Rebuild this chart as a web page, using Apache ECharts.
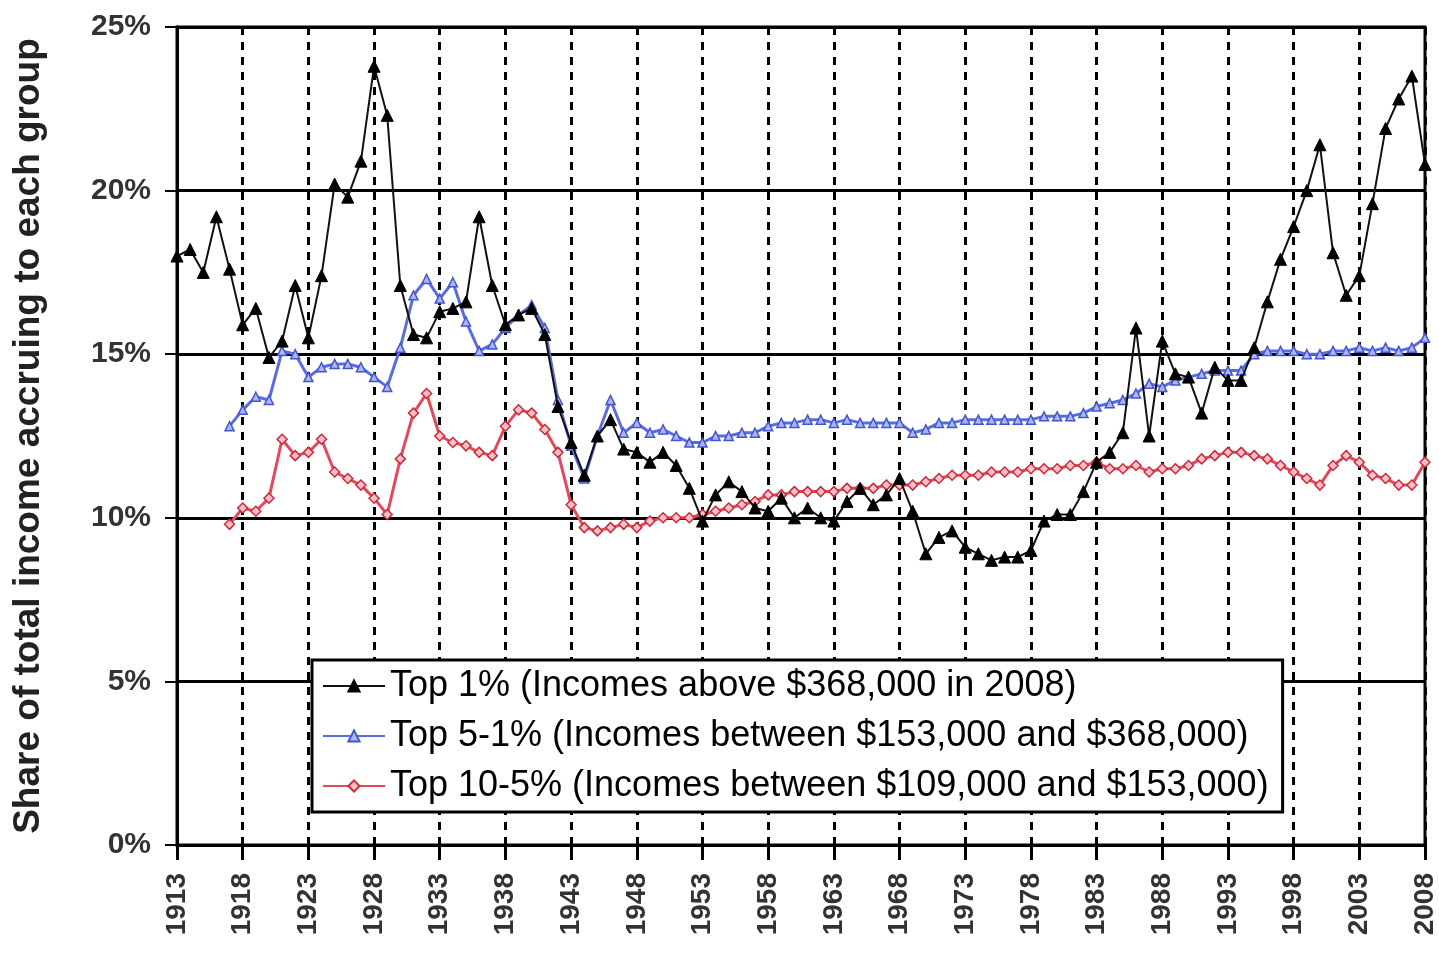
<!DOCTYPE html>
<html>
<head>
<meta charset="utf-8">
<script src="https://cdn.jsdelivr.net/npm/echarts@6/dist/echarts.min.js"></script>
<style>
html,body{margin:0;padding:0;background:#fff;}
#chart{width:1439px;height:959px;}
</style>
</head>
<body>
<div id="chart"></div>
<script>
// Years 1913..2008
var years = [];
for (var y = 1913; y <= 2008; y++) years.push(String(y));

var seriesNames = [
  'Top 1% (Incomes above $368,000 in 2008)',
  'Top 5-1% (Incomes between $153,000 and $368,000)',
  'Top 10-5% (Incomes between $109,000 and $153,000)'
];

var top1 = [
  18.0,18.2,17.5,19.2,17.6,15.9,16.4,
  14.9,15.4,17.1,15.5,17.4,20.2,19.8,20.9,23.8,22.3,
  17.1,15.6,15.5,16.3,16.4,16.6,19.2,17.1,15.9,16.2,
  16.4,15.6,13.4,12.3,11.3,12.5,13.0,12.1,12.0,11.7,
  12.0,11.6,10.9,9.9,10.7,11.1,10.8,10.3,10.2,10.6,
  10.0,10.3,10.0,9.9,10.5,10.9,10.4,10.7,11.2,10.2,
  8.9,9.4,9.6,9.1,8.9,8.7,8.8,8.8,9.0,9.9,
  10.1,10.1,10.8,11.7,12.0,12.6,15.8,12.5,15.4,14.4,
  14.3,13.2,14.6,14.2,14.2,15.2,16.6,17.9,18.9,20.0,
  21.4,18.1,16.8,17.4,19.6,21.9,22.8,23.5,20.8
];

var top5to1 = [
  null,null,null,null,12.8,13.3,13.7,
  13.6,15.1,15.0,14.3,14.6,14.7,14.7,14.6,14.3,14.0,
  15.2,16.8,17.3,16.7,17.2,16.0,15.1,15.3,15.8,16.2,
  16.5,15.8,13.6,12.2,11.2,12.5,13.6,12.6,12.9,12.6,
  12.7,12.5,12.3,12.3,12.5,12.5,12.6,12.6,12.8,12.9,
  12.9,13.0,13.0,12.9,13.0,12.9,12.9,12.9,12.9,12.6,
  12.7,12.9,12.9,13.0,13.0,13.0,13.0,13.0,13.0,13.1,
  13.1,13.1,13.2,13.4,13.5,13.6,13.8,14.1,14.0,14.2,
  14.3,14.4,14.5,14.5,14.5,15.0,15.1,15.1,15.1,15.0,
  15.0,15.1,15.1,15.2,15.1,15.2,15.1,15.2,15.5
];

var top10to5 = [
  null,null,null,null,9.8,10.3,10.2,
  10.6,12.4,11.9,12.0,12.4,11.4,11.2,11.0,10.6,10.1,
  11.8,13.2,13.8,12.5,12.3,12.2,12.0,11.9,12.8,13.3,
  13.2,12.7,12.0,10.4,9.7,9.6,9.7,9.8,9.7,9.9,
  10.0,10.0,10.0,10.1,10.2,10.3,10.4,10.5,10.7,10.7,
  10.8,10.8,10.8,10.8,10.9,10.9,10.9,11.0,11.0,11.0,
  11.1,11.2,11.3,11.3,11.3,11.4,11.4,11.4,11.5,11.5,
  11.5,11.6,11.6,11.7,11.5,11.5,11.6,11.4,11.5,11.5,
  11.6,11.8,11.9,12.0,12.0,11.9,11.8,11.6,11.4,11.2,
  11.0,11.6,11.9,11.7,11.3,11.2,11.0,11.0,11.7
];

var yTitle = 'Share of total income accruing to each group';
var FONT = 'Liberation Sans, Arial, sans-serif';

var chart = echarts.init(document.getElementById('chart'), null, {renderer: 'canvas'});
chart.setOption({
  animation: false,
  backgroundColor: '#ffffff',
  grid: {
    left: 177, right: 8, top: 27, bottom: 114,
    show: true, borderColor: '#000', borderWidth: 3, backgroundColor: 'transparent'
  },
  legend: {
    orient: 'vertical',
    left: 312, top: 660,
    data: seriesNames,
    backgroundColor: '#ffffff',
    borderColor: '#000', borderWidth: 3,
    padding: [8, 14, 8, 10],
    itemGap: 14,
    itemWidth: 62, itemHeight: 14,
    textStyle: {fontFamily: FONT, fontSize: 36, color: '#000'}
  },
  xAxis: {
    type: 'category',
    data: years,
    boundaryGap: false,
    axisLine: {lineStyle: {color: '#000', width: 3}},
    axisTick: {show: true, interval: 4, length: 15, lineStyle: {color: '#000', width: 3}},
    axisLabel: {
      interval: 4, rotate: 90, margin: 28,
      fontFamily: FONT, fontSize: 28, fontWeight: 'bold', color: '#333'
    },
    splitLine: {show: true, interval: 4, lineStyle: {color: '#000', width: 3, type: [8, 7]}}
  },
  yAxis: {
    type: 'value',
    min: 0, max: 25, interval: 5,
    name: yTitle,
    nameLocation: 'middle',
    nameGap: 130,
    nameTextStyle: {fontFamily: FONT, fontSize: 37, fontWeight: 'bold', color: '#222'},
    axisLine: {show: true, lineStyle: {color: '#000', width: 3}},
    axisTick: {show: true, length: 12, lineStyle: {color: '#000', width: 2}},
    axisLabel: {
      formatter: '{value}%', margin: 26,
      fontFamily: FONT, fontSize: 30, fontWeight: 'bold', color: '#333'
    },
    splitLine: {show: true, lineStyle: {color: '#000', width: 3}}
  },
  series: [
    {
      name: seriesNames[0], type: 'line', data: top1,
      symbol: 'triangle', symbolSize: 12, showAllSymbol: true,
      lineStyle: {color: '#111', width: 2},
      itemStyle: {color: '#000', borderColor: '#000', borderWidth: 1},
      z: 4
    },
    {
      name: seriesNames[1], type: 'line', data: top5to1,
      symbol: 'triangle', symbolSize: 9, showAllSymbol: true,
      lineStyle: {color: '#5a6de0', width: 3},
      itemStyle: {color: '#aab6ff', borderColor: '#4455cc', borderWidth: 1.5},
      z: 3
    },
    {
      name: seriesNames[2], type: 'line', data: top10to5,
      symbol: 'diamond', symbolSize: 10, showAllSymbol: true,
      lineStyle: {color: '#e04a5a', width: 3},
      itemStyle: {color: '#ffc0c8', borderColor: '#cc2a3a', borderWidth: 1.5},
      z: 2
    }
  ]
});
</script>
</body>
</html>
